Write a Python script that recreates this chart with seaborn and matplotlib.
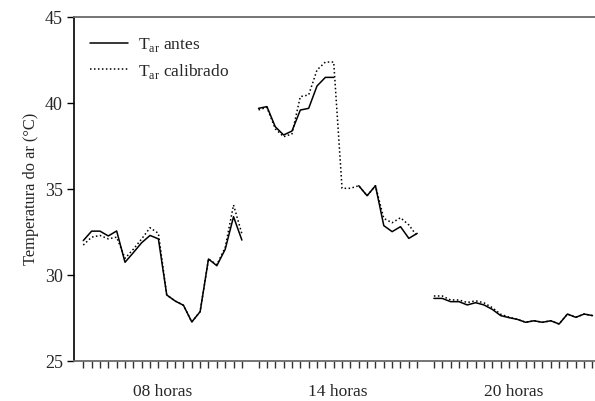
import numpy as np
import pandas as pd
import matplotlib
matplotlib.use("Agg")
import matplotlib.pyplot as plt
import seaborn as sns
from matplotlib.lines import Line2D

sns.set_theme(style="white")
plt.rcParams['font.family'] = ['Liberation Serif', 'DejaVu Serif']
plt.rcParams['mathtext.fontset'] = 'custom'
plt.rcParams['mathtext.rm'] = 'Liberation Serif'

groups = ["08 horas", "14 horas", "20 horas"]
nan = np.nan

antes_08 = [32.0, 32.55, 32.55, 32.27, 32.56, 30.74, 31.3, 31.88, 32.3, 32.1,
            28.84, 28.49, 28.24, 27.27, 27.87, 30.93, 30.54, 31.49, 33.39, 32.03]
calib_08 = [31.74, 32.2, 32.3, 32.1, 32.2, 30.97, 31.5, 32.1, 32.75, 32.42,
            28.84, 28.49, 28.24, 27.27, 27.87, 30.93, 30.6, 31.6, 34.07, 32.4]
antes_14 = [39.69, 39.79, 38.62, 38.14, 38.37, 39.59, 39.69, 40.99, 41.49, 41.49,
            nan, nan, 35.19, 34.61, 35.19, 32.87, 32.52, 32.81, 32.13, 32.42]
calib_14 = [39.6, 39.75, 38.5, 38.04, 38.2, 40.37, 40.47, 41.92, 42.38, 42.38,
            35.04, 35.04, 35.19, 34.61, 35.19, 33.29, 33.04, 33.33, 32.91, 32.25]
antes_20 = [28.64, 28.64, 28.45, 28.45, 28.26, 28.39, 28.26, 28.0, 27.64, 27.52,
            27.42, 27.25, 27.34, 27.25, 27.34, 27.15, 27.73, 27.54, 27.73, 27.64]
calib_20 = [28.78, 28.78, 28.55, 28.55, 28.4, 28.5, 28.38, 28.1, 27.72, 27.55,
            27.42, 27.25, 27.34, 27.25, 27.34, 27.15, 27.73, 27.54, 27.73, 27.64]

antes = [antes_08, antes_14, antes_20]
calib = [calib_08, calib_14, calib_20]
yticks = [25, 30, 35, 40, 45]
labels = [r'T$_{\rm ar}$ antes', r'T$_{\rm ar}$ calibrado']

# build long table with positional index (one empty slot between groups)
rows = []
for g, (a_vals, c_vals) in enumerate(zip(antes, calib)):
    for i, (a, c) in enumerate(zip(a_vals, c_vals)):
        pos = g * 21 + i
        rows.append(dict(pos=pos, temp=a, series=labels[0], group=g))
        rows.append(dict(pos=pos, temp=c, series=labels[1], group=g))
df = pd.DataFrame(rows)

# contiguous segment ids
segs = []
for (s, g), sub in df.groupby(['series', 'group'], sort=False):
    sub = sub.sort_values('pos')
    seg = sub['temp'].isna().cumsum()
    segs.append(pd.Series([f"{s}-{g}-{k}" for k in seg], index=sub.index))
df['seg'] = pd.concat(segs)
df = df.dropna(subset=['temp'])

fig = plt.figure(figsize=(5.95, 4.01), dpi=100)
ax = fig.add_axes([74/595, 1 - 361/401, 1 - 74/595, (361 - 17)/401])

styles = {labels[0]: dict(ls='-', lw=1.1), labels[1]: dict(ls=(0, (1, 1.6)), lw=1.1)}
for seg_id, sub in df.groupby('seg', sort=False):
    s = sub['series'].iloc[0]
    sns.lineplot(data=sub, x='pos', y='temp', ax=ax, color='black',
                 linestyle=styles[s]['ls'], linewidth=styles[s]['lw'],
                 estimator=None, legend=False)

ax.set_xlim(-1.11, 61.3)
ax.set_ylim(25, 45)
ax.set_yticks(yticks)
ax.set_yticklabels([str(v) for v in yticks], fontsize=13)
ticks = [g * 21 + i for g in range(3) for i in range(20)]
ax.set_xticks(ticks)
ax.set_xticklabels([''] * len(ticks))
ax.tick_params(axis='x', direction='out', length=5, width=1, color='#333333', bottom=True, pad=2)
ax.tick_params(axis='y', direction='out', length=5, width=1, color='black', left=True, pad=3)
for g, name in enumerate(groups):
    ax.text(g * 21 + 9.5, -0.09, name, transform=ax.get_xaxis_transform(),
            ha='center', va='center', fontsize=12.5)
ax.set_xlabel('')
ax.set_ylabel('Temperatura do ar (°C)', fontsize=11.8, labelpad=4)

ax.spines['right'].set_visible(False)
ax.spines['left'].set_color('black')
ax.spines['left'].set_linewidth(1.2)
ax.spines['top'].set_color('#6a6a6a')
ax.spines['top'].set_linewidth(1.3)
ax.spines['bottom'].set_color('#6a6a6a')
ax.spines['bottom'].set_linewidth(1.3)

handles = [Line2D([], [], color='black', ls='-', lw=1.1),
           Line2D([], [], color='black', ls=(0, (1, 1.6)), lw=1.1)]
ax.legend(handles, labels, loc='upper left', frameon=False, fontsize=12.5,
          bbox_to_anchor=(0.0, 0.991), handlelength=2.2, handletextpad=0.6,
          labelspacing=0.45, borderaxespad=0.5)

fig.savefig('out.png', dpi=100)
